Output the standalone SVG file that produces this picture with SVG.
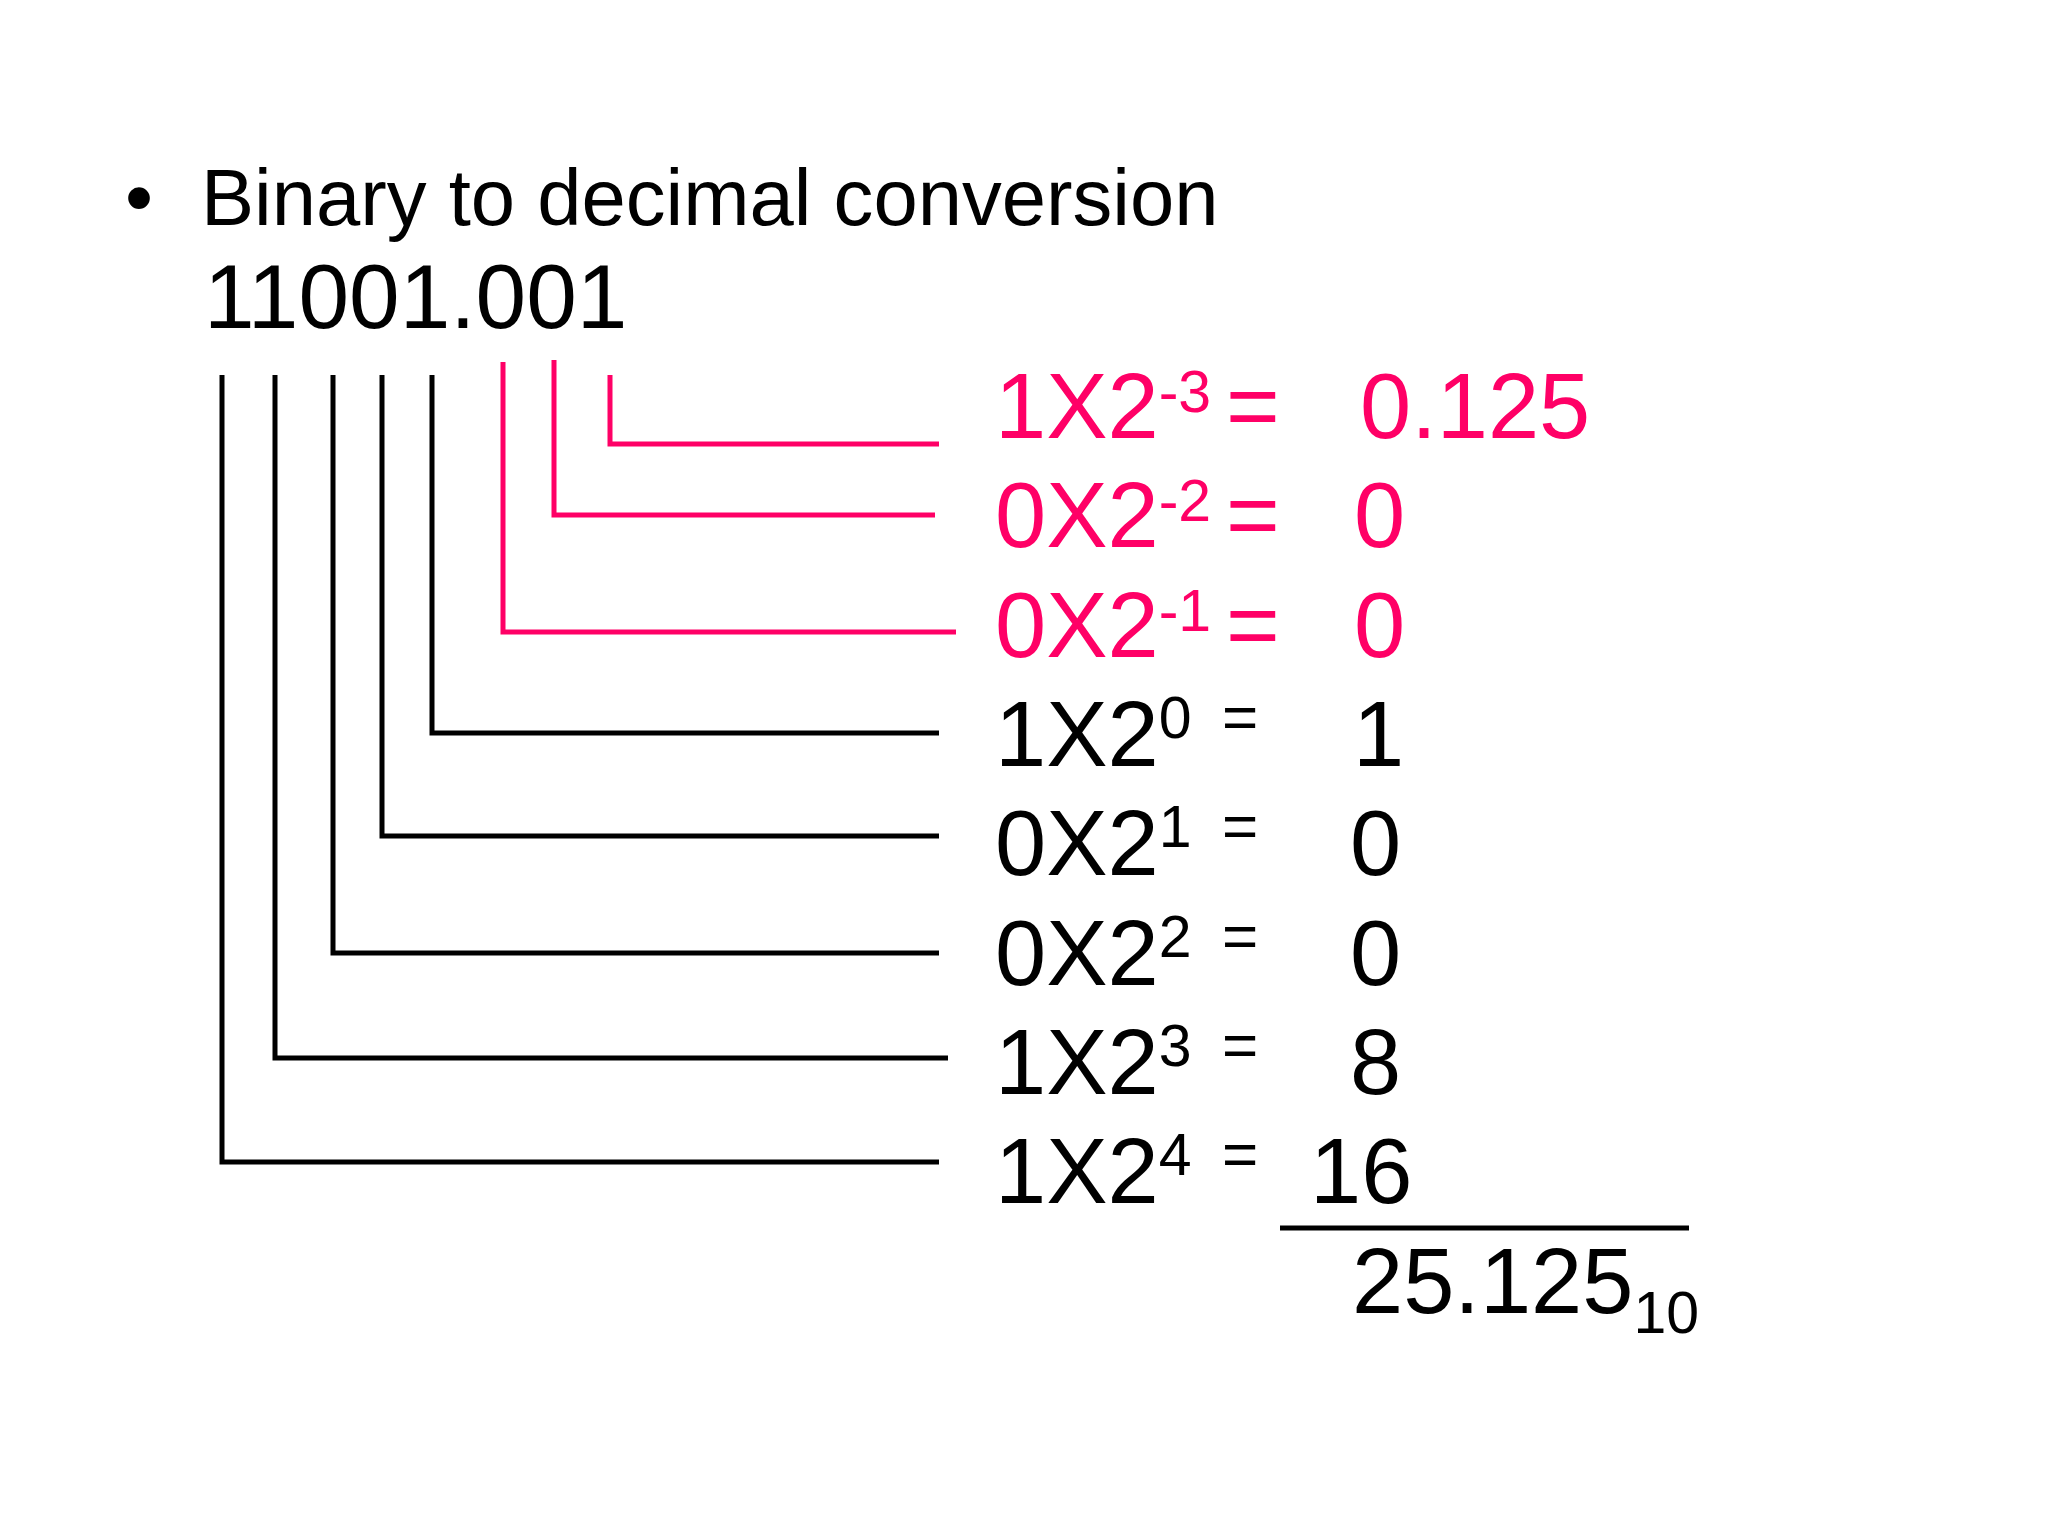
<svg xmlns="http://www.w3.org/2000/svg" width="2048" height="1536" viewBox="0 0 2048 1536">
<style>
text{font-family:"Liberation Sans",Arial,sans-serif;fill:#000}
.t{font-size:92px}
.p{fill:#FF0066}
.sup{font-size:59px}
.eq{font-size:62px}
.ln{fill:none;stroke:#000;stroke-width:5;stroke-linejoin:miter}
.lp{stroke:#FF0066}
</style>
<rect width="2048" height="1536" fill="#fff"/>
<g id="title">
<text x="125" y="225" style="font-size:80px">•</text>
<text x="201" y="225" style="font-size:79.6px">Binary to decimal conversion</text>
</g>
<g id="binary"><text class="t" x="204" y="328" style="font-size:91px">11001.001</text></g>
<g id="connectors">
<polyline class="ln lp" points="610,375 610,444 939,444"/>
<polyline class="ln lp" points="554,360 554,515 935,515"/>
<polyline class="ln lp" points="503,362 503,632 956,632"/>
<polyline class="ln" points="432,375 432,733 939,733"/>
<polyline class="ln" points="382,375 382,836 939,836"/>
<polyline class="ln" points="333,375 333,953 939,953"/>
<polyline class="ln" points="275,375 275,1058 948,1058"/>
<polyline class="ln" points="222,375 222,1162 939,1162"/>
</g>
<g id="row-m3"><text class="t p" x="995" y="438">1X2<tspan class="sup" dy="-26">-3</tspan></text><text class="t p" x="1226" y="438">=</text><text class="t p" x="1360" y="438">0.125</text></g>
<g id="row-m2"><text class="t p" x="995" y="547">0X2<tspan class="sup" dy="-26">-2</tspan></text><text class="t p" x="1226" y="547">=</text><text class="t p" x="1354" y="547">0</text></g>
<g id="row-m1"><text class="t p" x="995" y="657">0X2<tspan class="sup" dy="-26">-1</tspan></text><text class="t p" x="1226" y="657">=</text><text class="t p" x="1354" y="657">0</text></g>
<g id="row-0"><text class="t" x="995" y="766">1X2<tspan class="sup" dy="-28">0</tspan></text><text class="eq" x="1222" y="738">=</text><text class="t" x="1353" y="766">1</text></g>
<g id="row-1"><text class="t" x="995" y="875">0X2<tspan class="sup" dy="-28">1</tspan></text><text class="eq" x="1222" y="847">=</text><text class="t" x="1350" y="875">0</text></g>
<g id="row-2"><text class="t" x="995" y="985">0X2<tspan class="sup" dy="-28">2</tspan></text><text class="eq" x="1222" y="957">=</text><text class="t" x="1350" y="985">0</text></g>
<g id="row-3"><text class="t" x="995" y="1094">1X2<tspan class="sup" dy="-28">3</tspan></text><text class="eq" x="1222" y="1066">=</text><text class="t" x="1350" y="1094">8</text></g>
<g id="row-4"><text class="t" x="995" y="1203">1X2<tspan class="sup" dy="-28">4</tspan></text><text class="eq" x="1222" y="1175">=</text><text class="t" x="1310" y="1203">16</text></g>
<g id="sum">
<line x1="1280" y1="1228" x2="1689" y2="1228" stroke="#000" stroke-width="5"/>
<text class="t" x="1352" y="1313">25.125<tspan class="sup" dy="20">10</tspan></text>
</g>
</svg>
